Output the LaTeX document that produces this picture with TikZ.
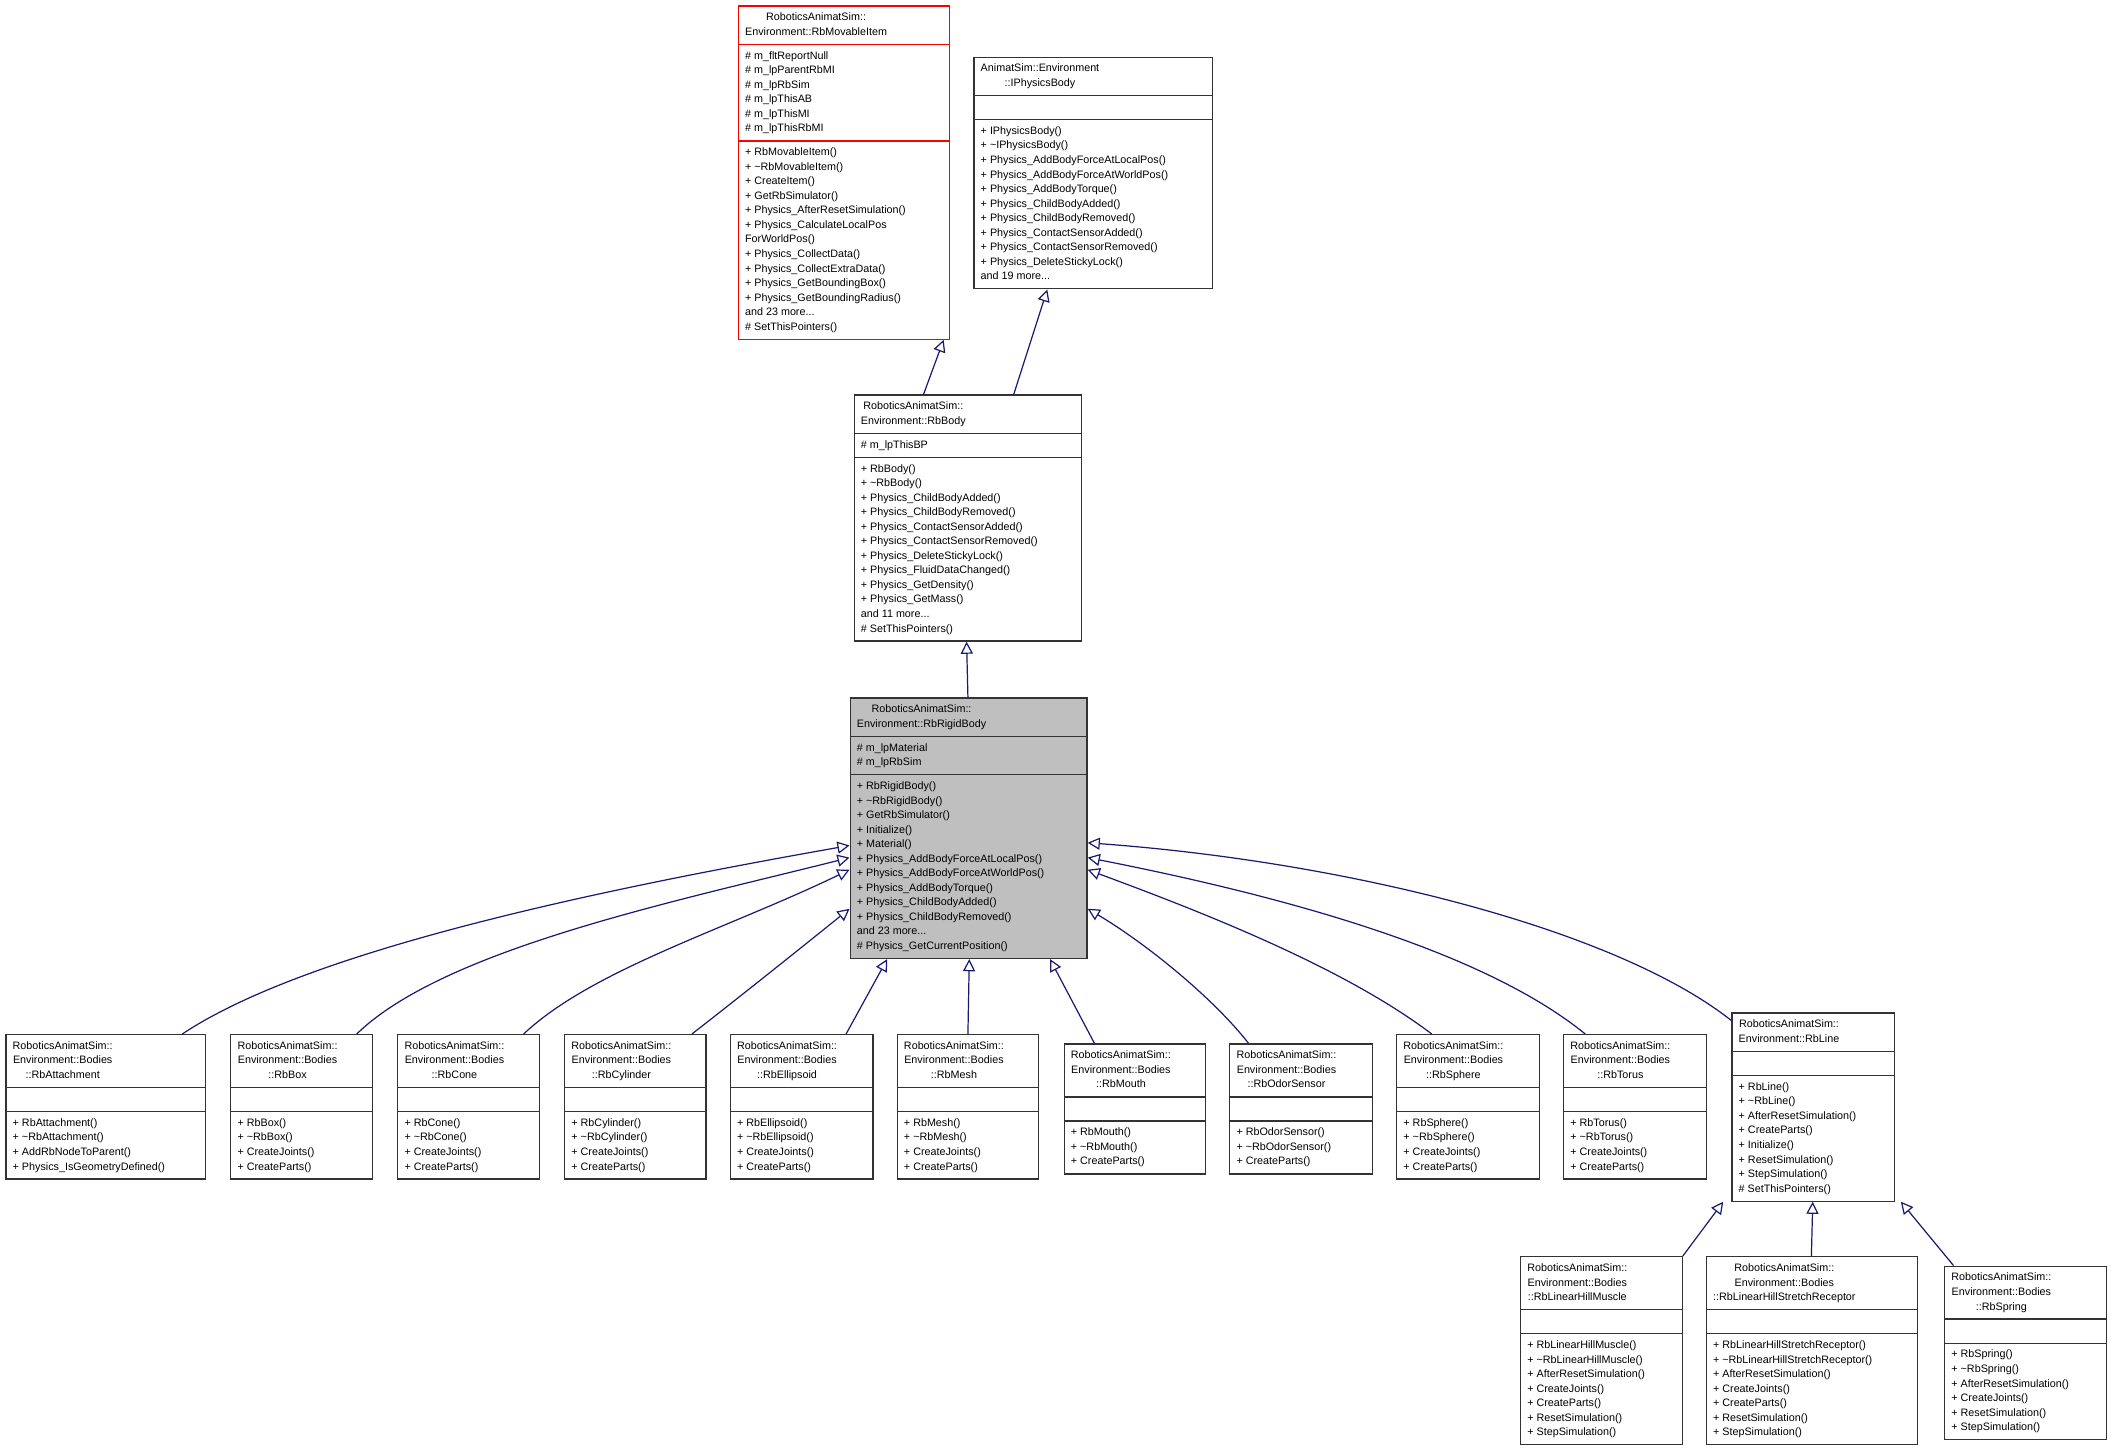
\documentclass[tikz,border=0pt]{standalone}
\usepackage{fontspec}
\setmainfont{Liberation Sans}
\usetikzlibrary{shapes.multipart,arrows.meta}

\definecolor{edgeblue}{HTML}{191970}
\definecolor{basefill}{HTML}{BFBFBF}
\newcommand{\cls}[1]{\begin{tabular}{@{}c@{}}#1\end{tabular}}
\newcommand{\mem}[1]{\begin{tabular}{@{}l@{}}#1\end{tabular}}
\newcommand{\none}{\rule{0pt}{11pt}}

\begin{document}
\begin{tikzpicture}[x=1pt,y=-1pt,
		umlclass/.style={rectangle split, rectangle split parts=3, draw=black!80, line width=0.9pt,
			anchor=north west, inner xsep=5pt, inner ysep=3pt, font=\fontsize{8}{10.8}\selectfont,
			rectangle split part align={left}},
		inherit/.style={draw=edgeblue, line width=0.9pt, -{Triangle[open,length=9pt,width=9pt]}}]
		\useasboundingbox (0,0) rectangle (1568,1080);

		\node[umlclass, draw=red, minimum width=157pt] (movable) at (548,4)
			{\cls{RoboticsAnimatSim::\\Environment::RbMovableItem}
			\nodepart{two}\mem{\# m\_fltReportNull\\\# m\_lpParentRbMI\\\# m\_lpRbSim\\\# m\_lpThisAB\\\# m\_lpThisMI\\\# m\_lpThisRbMI}
			\nodepart{three}\mem{+ RbMovableItem()\\+ \textasciitilde RbMovableItem()\\+ CreateItem()\\+ GetRbSimulator()\\+ Physics\_AfterResetSimulation()\\+ Physics\_CalculateLocalPos\\ForWorldPos()\\+ Physics\_CollectData()\\+ Physics\_CollectExtraData()\\+ Physics\_GetBoundingBox()\\+ Physics\_GetBoundingRadius()\\and 23 more...\\\# SetThisPointers()}};
		\node[umlclass, minimum width=177pt] (iphys) at (723,42)
			{\cls{AnimatSim::Environment\\::IPhysicsBody}
			\nodepart{two}\none
			\nodepart{three}\mem{+ IPhysicsBody()\\+ \textasciitilde IPhysicsBody()\\+ Physics\_AddBodyForceAtLocalPos()\\+ Physics\_AddBodyForceAtWorldPos()\\+ Physics\_AddBodyTorque()\\+ Physics\_ChildBodyAdded()\\+ Physics\_ChildBodyRemoved()\\+ Physics\_ContactSensorAdded()\\+ Physics\_ContactSensorRemoved()\\+ Physics\_DeleteStickyLock()\\and 19 more...}};
		\node[umlclass, minimum width=169pt] (body) at (634,293)
			{\cls{RoboticsAnimatSim::\\Environment::RbBody}
			\nodepart{two}\mem{\# m\_lpThisBP}
			\nodepart{three}\mem{+ RbBody()\\+ \textasciitilde RbBody()\\+ Physics\_ChildBodyAdded()\\+ Physics\_ChildBodyRemoved()\\+ Physics\_ContactSensorAdded()\\+ Physics\_ContactSensorRemoved()\\+ Physics\_DeleteStickyLock()\\+ Physics\_FluidDataChanged()\\+ Physics\_GetDensity()\\+ Physics\_GetMass()\\and 11 more...\\\# SetThisPointers()}};
		\node[umlclass, fill=basefill, minimum width=176pt] (rigid) at (631,518)
			{\cls{RoboticsAnimatSim::\\Environment::RbRigidBody}
			\nodepart{two}\mem{\# m\_lpMaterial\\\# m\_lpRbSim}
			\nodepart{three}\mem{+ RbRigidBody()\\+ \textasciitilde RbRigidBody()\\+ GetRbSimulator()\\+ Initialize()\\+ Material()\\+ Physics\_AddBodyForceAtLocalPos()\\+ Physics\_AddBodyForceAtWorldPos()\\+ Physics\_AddBodyTorque()\\+ Physics\_ChildBodyAdded()\\+ Physics\_ChildBodyRemoved()\\and 23 more...\\\# Physics\_GetCurrentPosition()}};

		% bottom row
		\node[umlclass, minimum width=148pt] (attach) at (4,768)
			{\cls{RoboticsAnimatSim::\\Environment::Bodies\\::RbAttachment}
			\nodepart{two}\none
			\nodepart{three}\mem{+ RbAttachment()\\+ \textasciitilde RbAttachment()\\+ AddRbNodeToParent()\\+ Physics\_IsGeometryDefined()}};
		\node[umlclass, minimum width=105pt] (box) at (171,768)
			{\cls{RoboticsAnimatSim::\\Environment::Bodies\\::RbBox}
			\nodepart{two}\none
			\nodepart{three}\mem{+ RbBox()\\+ \textasciitilde RbBox()\\+ CreateJoints()\\+ CreateParts()}};
		\node[umlclass, minimum width=105pt] (cone) at (295,768)
			{\cls{RoboticsAnimatSim::\\Environment::Bodies\\::RbCone}
			\nodepart{two}\none
			\nodepart{three}\mem{+ RbCone()\\+ \textasciitilde RbCone()\\+ CreateJoints()\\+ CreateParts()}};
		\node[umlclass, minimum width=105pt] (cyl) at (419,768)
			{\cls{RoboticsAnimatSim::\\Environment::Bodies\\::RbCylinder}
			\nodepart{two}\none
			\nodepart{three}\mem{+ RbCylinder()\\+ \textasciitilde RbCylinder()\\+ CreateJoints()\\+ CreateParts()}};
		\node[umlclass, minimum width=106pt] (ellip) at (542,768)
			{\cls{RoboticsAnimatSim::\\Environment::Bodies\\::RbEllipsoid}
			\nodepart{two}\none
			\nodepart{three}\mem{+ RbEllipsoid()\\+ \textasciitilde RbEllipsoid()\\+ CreateJoints()\\+ CreateParts()}};
		\node[umlclass, minimum width=105pt] (mesh) at (666,768)
			{\cls{RoboticsAnimatSim::\\Environment::Bodies\\::RbMesh}
			\nodepart{two}\none
			\nodepart{three}\mem{+ RbMesh()\\+ \textasciitilde RbMesh()\\+ CreateJoints()\\+ CreateParts()}};
		\node[umlclass, minimum width=105pt] (mouth) at (790,775)
			{\cls{RoboticsAnimatSim::\\Environment::Bodies\\::RbMouth}
			\nodepart{two}\none
			\nodepart{three}\mem{+ RbMouth()\\+ \textasciitilde RbMouth()\\+ CreateParts()}};
		\node[umlclass, minimum width=106pt] (odor) at (913,775)
			{\cls{RoboticsAnimatSim::\\Environment::Bodies\\::RbOdorSensor}
			\nodepart{two}\none
			\nodepart{three}\mem{+ RbOdorSensor()\\+ \textasciitilde RbOdorSensor()\\+ CreateParts()}};
		\node[umlclass, minimum width=106pt] (sphere) at (1037,768)
			{\cls{RoboticsAnimatSim::\\Environment::Bodies\\::RbSphere}
			\nodepart{two}\none
			\nodepart{three}\mem{+ RbSphere()\\+ \textasciitilde RbSphere()\\+ CreateJoints()\\+ CreateParts()}};
		\node[umlclass, minimum width=106pt] (torus) at (1161,768)
			{\cls{RoboticsAnimatSim::\\Environment::Bodies\\::RbTorus}
			\nodepart{two}\none
			\nodepart{three}\mem{+ RbTorus()\\+ \textasciitilde RbTorus()\\+ CreateJoints()\\+ CreateParts()}};
		\node[umlclass, minimum width=121pt] (line) at (1286,752)
			{\cls{RoboticsAnimatSim::\\Environment::RbLine}
			\nodepart{two}\none
			\nodepart{three}\mem{+ RbLine()\\+ \textasciitilde RbLine()\\+ AfterResetSimulation()\\+ CreateParts()\\+ Initialize()\\+ ResetSimulation()\\+ StepSimulation()\\\# SetThisPointers()}};

		% RbLine subclasses
		\node[umlclass, minimum width=120pt] (muscle) at (1129,933)
			{\cls{RoboticsAnimatSim::\\Environment::Bodies\\::RbLinearHillMuscle}
			\nodepart{two}\none
			\nodepart{three}\mem{+ RbLinearHillMuscle()\\+ \textasciitilde RbLinearHillMuscle()\\+ AfterResetSimulation()\\+ CreateJoints()\\+ CreateParts()\\+ ResetSimulation()\\+ StepSimulation()}};
		\node[umlclass, minimum width=157pt] (stretch) at (1267,933)
			{\cls{RoboticsAnimatSim::\\Environment::Bodies\\::RbLinearHillStretchReceptor}
			\nodepart{two}\none
			\nodepart{three}\mem{+ RbLinearHillStretchReceptor()\\+ \textasciitilde RbLinearHillStretchReceptor()\\+ AfterResetSimulation()\\+ CreateJoints()\\+ CreateParts()\\+ ResetSimulation()\\+ StepSimulation()}};
		\node[umlclass, minimum width=120pt] (spring) at (1444,940)
			{\cls{RoboticsAnimatSim::\\Environment::Bodies\\::RbSpring}
			\nodepart{two}\none
			\nodepart{three}\mem{+ RbSpring()\\+ \textasciitilde RbSpring()\\+ AfterResetSimulation()\\+ CreateJoints()\\+ ResetSimulation()\\+ StepSimulation()}};

		% inheritance
		\draw[inherit] ([xshift=-33pt]body.north) -- ([xshift=-5pt]movable.south east);
		\draw[inherit] ([xshift=34pt]body.north) -- ([xshift=-123pt]iphys.south east);
		\draw[inherit] ([xshift=-0.5pt]rigid.north) -- ([xshift=-1pt]body.south);
		\draw[inherit] ([xshift=57pt]attach.north) .. controls (230,705) and (450,660) .. ([yshift=-110pt]rigid.north west);
		\draw[inherit] ([xshift=41pt]box.north) .. controls (330,705) and (500,670) .. ([yshift=-119pt]rigid.north west);
		\draw[inherit] ([xshift=41pt]cone.north) .. controls (440,720) and (540,690) .. ([yshift=-128pt]rigid.north west);
		\draw[inherit] ([xshift=42pt]cyl.north) .. controls (550,740) and (600,700) .. ([yshift=-157pt]rigid.north west);
		\draw[inherit] ([xshift=33pt]ellip.north) -- ([xshift=28pt]rigid.south west);
		\draw[inherit] (mesh.north) -- ([xshift=0.5pt]rigid.south);
		\draw[inherit] ([xshift=-30pt]mouth.north) -- ([xshift=-28pt]rigid.south east);
		\draw[inherit] ([xshift=-39pt]odor.north) .. controls (900,740) and (850,700) .. ([yshift=-157pt]rigid.north east);
		\draw[inherit] ([xshift=-27pt]sphere.north) .. controls (1000,720) and (900,680) .. ([yshift=-128pt]rigid.north east);
		\draw[inherit] ([xshift=-37pt]torus.north) .. controls (1100,705) and (950,665) .. ([yshift=-119pt]rigid.north east);
		\draw[inherit] ([yshift=-6pt]line.north west) .. controls (1200,690) and (1000,640) .. ([yshift=-108pt]rigid.north east);
		\draw[inherit] (muscle.north east) -- ([xshift=-6pt]line.south west);
		\draw[inherit] ([xshift=-0.5pt]stretch.north) -- ([xshift=-0.5pt]line.south);
		\draw[inherit] ([xshift=7pt]spring.north west) -- ([xshift=4pt]line.south east);
	\end{tikzpicture}
\end{document}
